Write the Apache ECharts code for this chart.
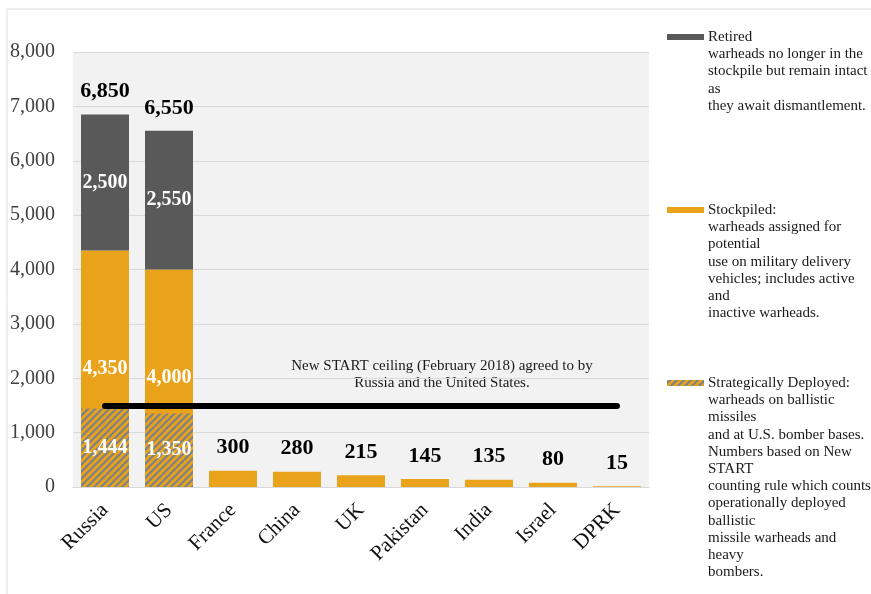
<!DOCTYPE html>
<html>
<head>
<meta charset="utf-8">
<script src="https://cdn.jsdelivr.net/npm/echarts@6/dist/echarts.min.js"></script>
<style>html,body{margin:0;padding:0;background:#fff}#c{width:871px;height:594px}</style>
</head>
<body>
<div id="c"></div>
<script>
const categories = ['Russia','US','France','China','UK','Pakistan','India','Israel','DPRK'];
const stockpiled = [4350, 4000, 300, 280, 215, 145, 135, 80, 15];
const retired = [2500, 2550, 0, 0, 0, 0, 0, 0, 0];
const deployed = [1444, 1350, '-', '-', '-', '-', '-', '-', '-'];
const totals = [6850, 6550, 300, 280, 215, 145, 135, 80, 15];
const ceiling = 1500;
const yTicks = [0, 1000, 2000, 3000, 4000, 5000, 6000, 7000, 8000];
const legendTexts = [
  'Retired\nwarheads no longer in the\nstockpile but remain intact\nas\nthey await dismantlement.',
  'Stockpiled:\nwarheads assigned for\npotential\nuse on military delivery\nvehicles; includes active\nand\ninactive warheads.',
  'Strategically Deployed:\nwarheads on ballistic\nmissiles\nand at U.S. bomber bases.\nNumbers based on New\nSTART\ncounting rule which counts\noperationally deployed\nballistic\nmissile warheads and\nheavy\nbombers.'
];
const annotation = 'New START ceiling (February 2018) agreed to by\nRussia and the United States.';

const ORANGE = '#E9A31A', GRAY = '#595959', STRIPE = '#7d8189';
const SERIF = '"Liberation Serif","Times New Roman",serif';

function makePattern() {
  const c = document.createElement('canvas');
  c.width = 7; c.height = 7;
  const g = c.getContext('2d');
  g.fillStyle = ORANGE; g.fillRect(0, 0, 7, 7);
  g.strokeStyle = STRIPE; g.lineWidth = 2.2;
  [[-7, 0], [0, 0], [7, 0]].forEach(([ox]) => {
    g.beginPath(); g.moveTo(ox - 1, 8); g.lineTo(ox + 8, -1); g.stroke();
  });
  return c;
}
const pat = makePattern();
const hatch = { image: pat, repeat: 'repeat' };
const fmt = v => Number(v).toLocaleString('en-US');

const innerLabel = { show: true, position: 'inside', color: '#fff', fontFamily: SERIF, fontWeight: 'bold', fontSize: 20 };

const chart = echarts.init(document.getElementById('c'));
chart.setOption({
  animation: false,
  grid: { left: 73, right: 222, top: 52, bottom: 107, show: true, backgroundColor: '#f2f2f2', borderWidth: 0 },
  xAxis: {
    type: 'category', data: categories,
    axisLine: { show: true, lineStyle: { color: '#d9d9d9', width: 1 } },
    axisTick: { show: false },
    axisLabel: { rotate: 45, margin: 20, fontFamily: SERIF, fontSize: 21, color: '#111', interval: 0 }
  },
  yAxis: {
    type: 'value', min: yTicks[0], max: yTicks[yTicks.length - 1], interval: 1000,
    axisLine: { show: false }, axisTick: { show: false },
    splitLine: { lineStyle: { color: '#d9d9d9', width: 1 } },
    axisLabel: { formatter: v => fmt(v), fontFamily: SERIF, fontSize: 20, color: '#404040', margin: 18 }
  },
  series: [
    {
      name: 'Stockpiled', type: 'bar', stack: 'a', barWidth: '75%', barGap: '-100%',
      itemStyle: { color: ORANGE },
      data: stockpiled.map((v, i) => ({ value: v, label: i < 2 ? innerLabel : { show: false } })),
      label: { formatter: p => fmt(p.value) }
    },
    {
      name: 'Retired', type: 'bar', stack: 'a', barWidth: '75%',
      itemStyle: { color: GRAY },
      data: retired,
      label: Object.assign({}, innerLabel, { formatter: p => p.value ? fmt(p.value) : '' })
    },
    {
      name: 'Total', type: 'bar', stack: 'a', barWidth: '75%',
      itemStyle: { color: 'transparent' },
      data: totals.map(() => 0),
      label: { show: true, position: 'top', distance: 12, color: '#000', fontFamily: SERIF, fontWeight: 'bold', fontSize: 22,
        formatter: p => fmt(totals[p.dataIndex]) },
      markLine: {
        silent: true, symbol: 'none',
        lineStyle: { color: '#000', width: 6, type: 'solid', cap: 'round' },
        label: { show: false },
        data: [[{ coord: [categories[0], ceiling] }, { coord: [categories[categories.length - 1], ceiling] }]]
      }
    },
    {
      name: 'Strategically Deployed', type: 'bar', barWidth: '75%', z: 3,
      itemStyle: { color: hatch },
      data: deployed,
      label: Object.assign({}, innerLabel, { formatter: p => fmt(p.value) })
    }
  ],
  graphic: [
    { type: 'line', shape: { x1: 7, y1: 9, x2: 871, y2: 9 }, style: { stroke: '#dcdcdc', lineWidth: 1 }, silent: true },
    { type: 'line', shape: { x1: 7, y1: 9, x2: 7, y2: 594 }, style: { stroke: '#dcdcdc', lineWidth: 1 }, silent: true },
    { type: 'text', x: 442, y: 358, style: { text: annotation, font: '15px ' + SERIF, fill: '#1a1a1a', align: 'center', verticalAlign: 'top', lineHeight: 17 } },
    { type: 'rect', shape: { x: 667, y: 34, width: 37, height: 6 }, style: { fill: GRAY } },
    { type: 'text', x: 708, y: 28.5, style: { text: legendTexts[0], font: '15px ' + SERIF, fill: '#1a1a1a', verticalAlign: 'top', lineHeight: 17.2 } },
    { type: 'rect', shape: { x: 667, y: 207, width: 37, height: 6 }, style: { fill: ORANGE } },
    { type: 'text', x: 708, y: 201.5, style: { text: legendTexts[1], font: '15px ' + SERIF, fill: '#1a1a1a', verticalAlign: 'top', lineHeight: 17.2 } },
    { type: 'rect', shape: { x: 667, y: 380, width: 37, height: 6 }, style: { fill: hatch } },
    { type: 'text', x: 708, y: 374.5, style: { text: legendTexts[2], font: '15px ' + SERIF, fill: '#1a1a1a', verticalAlign: 'top', lineHeight: 17.2 } }
  ]
});
</script>
</body>
</html>
